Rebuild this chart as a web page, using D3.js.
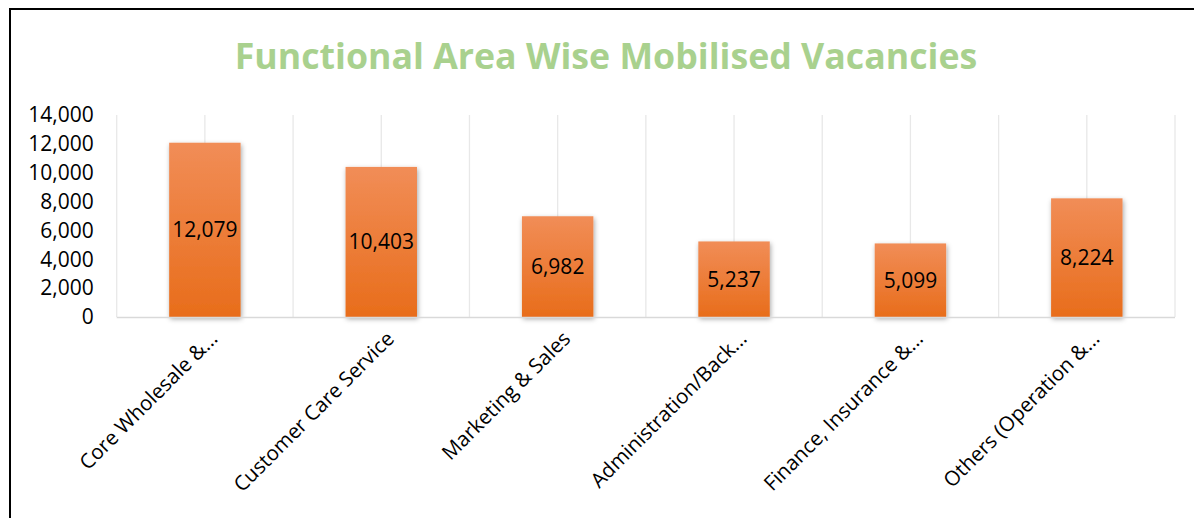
<!DOCTYPE html>
<html>
<head>
<meta charset="utf-8">
<script src="https://cdn.jsdelivr.net/npm/d3@7"></script>
<style>
  html, body { margin: 0; padding: 0; background: #fff; }
  svg { display: block; }
</style>
</head>
<body>
<svg id="chart"></svg>
<script>
const titleText = "Functional Area Wise Mobilised Vacancies";
const categories = [
  "Core Wholesale &...",
  "Customer Care Service",
  "Marketing & Sales",
  "Administration/Back...",
  "Finance, Insurance &...",
  "Others (Operation &..."
];
const vacancies = [12079, 10403, 6982, 5237, 5099, 8224];
const yTicks = [0, 2000, 4000, 6000, 8000, 10000, 12000, 14000];

const W = 1194, H = 518;
const fontFam = "'Open Sans', 'Noto Sans', sans-serif";
const plot = { left: 116.7, right: 1175, top: 115, bottom: 317 };

const svg = d3.select("#chart").attr("width", W).attr("height", H);

// outer frame
svg.append("rect")
    .attr("x", 10).attr("y", 9)
    .attr("width", W + 10).attr("height", H + 10)
    .attr("fill", "none").attr("stroke", "#000").attr("stroke-width", 2);

// gradient + shadow for bars
const defs = svg.append("defs");
const grad = defs.append("linearGradient")
    .attr("id", "barGrad").attr("x1", 0).attr("y1", 0).attr("x2", 0).attr("y2", 1);
grad.append("stop").attr("offset", "0%").attr("stop-color", "#F18D57");
grad.append("stop").attr("offset", "100%").attr("stop-color", "#E86D1B");

const shadow = defs.append("filter").attr("id", "shadow")
    .attr("x", "-20%").attr("y", "-10%").attr("width", "140%").attr("height", "130%");
shadow.append("feDropShadow")
    .attr("dx", 1).attr("dy", 2).attr("stdDeviation", 2.5)
    .attr("flood-color", "#000").attr("flood-opacity", 0.35);

// title
svg.append("text")
    .attr("x", 606).attr("y", 69)
    .attr("text-anchor", "middle")
    .attr("font-family", fontFam)
    .attr("font-weight", "bold")
    .attr("font-size", 35.7)
    .attr("fill", "#A9D18E")
    .text(titleText);

const x = d3.scaleBand().domain(categories).range([plot.left, plot.right]).paddingInner(0).paddingOuter(0);
const y = d3.scaleLinear().domain([0, 14000]).range([plot.bottom, plot.top]);

// vertical gridlines at every half category
const gridX = d3.range(categories.length * 2 + 1).map(i => plot.left + i * x.bandwidth() / 2);
svg.append("g").selectAll("line")
    .data(gridX)
    .enter().append("line")
    .attr("x1", d => d).attr("x2", d => d)
    .attr("y1", plot.top).attr("y2", plot.bottom)
    .attr("stroke", "#e8e8e8").attr("stroke-width", 1.3);

// y axis labels
const yAxis = d3.axisLeft(y).tickValues(yTicks).tickSize(0).tickPadding(0)
    .tickFormat(d3.format(","));
const yG = svg.append("g")
    .attr("transform", `translate(${plot.left - 23},0)`)
    .call(yAxis);
yG.select(".domain").remove();
yG.selectAll("text")
    .attr("font-family", fontFam)
    .attr("font-size", 21)
    .attr("fill", "#000");

// bars
const barW = x.bandwidth() * 0.405;
svg.append("g").selectAll("rect")
    .data(vacancies)
    .enter().append("rect")
    .attr("x", (d, i) => x(categories[i]) + x.bandwidth() / 2 - barW / 2)
    .attr("y", d => y(d))
    .attr("width", barW)
    .attr("height", d => plot.bottom - y(d))
    .attr("fill", "url(#barGrad)")
    .attr("filter", "url(#shadow)");

// baseline
svg.append("line")
    .attr("x1", plot.left).attr("x2", plot.right)
    .attr("y1", plot.bottom + 0.5).attr("y2", plot.bottom + 0.5)
    .attr("stroke", "#d9d9d9").attr("stroke-width", 1.5);

// value labels
svg.append("g").selectAll("text")
    .data(vacancies)
    .enter().append("text")
    .attr("x", (d, i) => x(categories[i]) + x.bandwidth() / 2)
    .attr("y", d => (y(d) + plot.bottom) / 2)
    .attr("dy", "0.35em")
    .attr("text-anchor", "middle")
    .attr("font-family", fontFam)
    .attr("font-size", 21)
    .attr("fill", "#000")
    .text(d => d3.format(",")(d));

// category labels, rotated
svg.append("g").selectAll("text")
    .data(categories)
    .enter().append("text")
    .attr("transform", d => `translate(${x(d) + x.bandwidth() / 2 + 14},${plot.bottom + 23}) rotate(-45)`)
    .attr("text-anchor", "end")
    .attr("font-family", fontFam)
    .attr("font-size", 20.5)
    .attr("fill", "#000")
    .text(d => d);
</script>
</body>
</html>
